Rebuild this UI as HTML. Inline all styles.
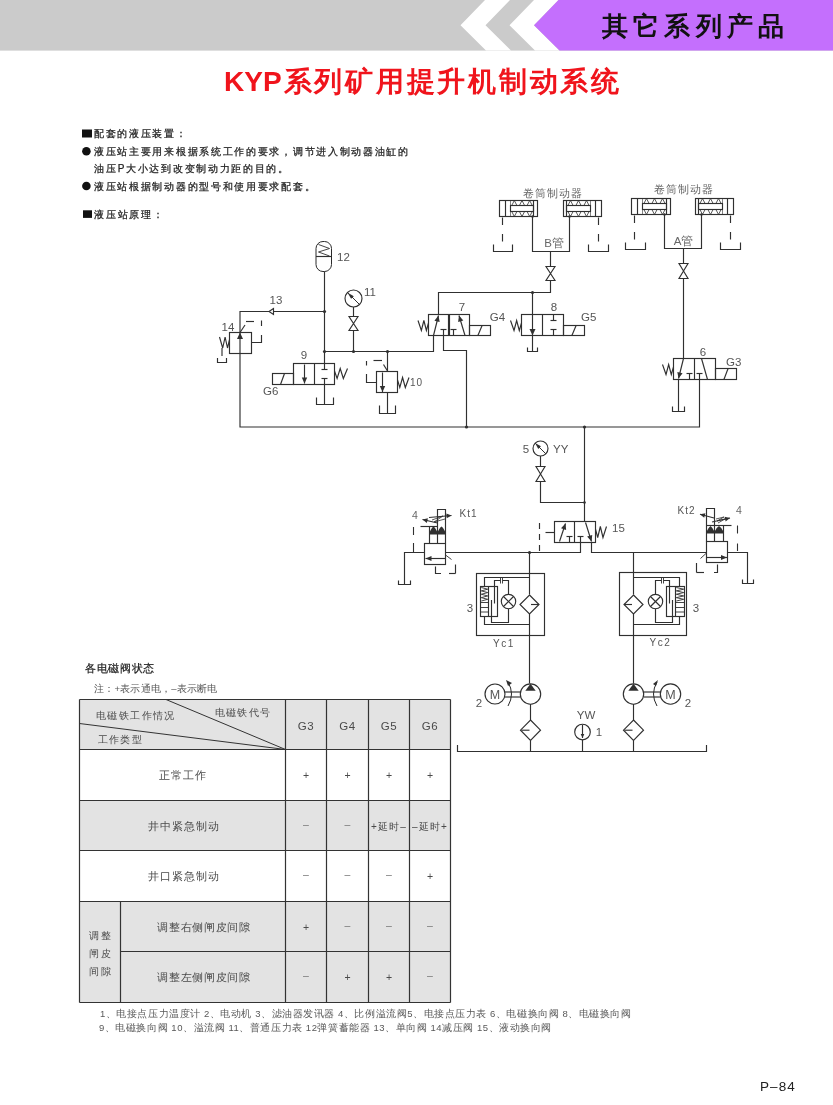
<!DOCTYPE html>
<html><head><meta charset="utf-8"><style>
html,body{margin:0;padding:0;background:#fff;}
body{width:833px;height:1105px;position:relative;overflow:hidden;font-family:"Liberation Sans",sans-serif;}
.t{position:absolute;white-space:nowrap;will-change:transform;}
</style></head><body>
<svg width="833" height="1105" viewBox="0 0 833 1105" style="position:absolute;left:0;top:0;will-change:transform" font-family="Liberation Sans, sans-serif"><rect x="0" y="0" width="833" height="50.6" fill="#cbcbcb"/><polygon points="485,0 510,0 485.5,25.3 511,50.6 486,50.6 460.5,25.3" fill="#fff"/><polygon points="534,0 558.5,0 534.0,25.3 559.5,50.6 535,50.6 509.5,25.3" fill="#fff"/><polygon points="558.5,0 833,0 833,50.6 559.5,50.6 534,25.3" fill="#c46ffd"/><rect x="499.5" y="200.5" width="38.0" height="16.0" fill="none" stroke="#303030" stroke-width="1.15"/><line x1="505.5" y1="200.5" x2="505.5" y2="216.5" stroke="#303030" stroke-width="1.15"/><line x1="533.5" y1="200.5" x2="533.5" y2="216.5" stroke="#303030" stroke-width="1.15"/><line x1="510.5" y1="200.5" x2="510.5" y2="216.5" stroke="#303030" stroke-width="0.6"/><rect x="510.5" y="205.5" width="23.0" height="6.0" fill="none" stroke="#303030" stroke-width="1.15"/><polyline points="511.73333333333335,205.5 514.3333333333334,200.5 516.9333333333334,205.5" fill="none" stroke="#303030" stroke-width="0.8"/><polyline points="511.73333333333335,211.5 514.3333333333334,216.5 516.9333333333334,211.5" fill="none" stroke="#303030" stroke-width="0.8"/><polyline points="519.4,205.5 522.0,200.5 524.6,205.5" fill="none" stroke="#303030" stroke-width="0.8"/><polyline points="519.4,211.5 522.0,216.5 524.6,211.5" fill="none" stroke="#303030" stroke-width="0.8"/><polyline points="527.0666666666666,205.5 529.6666666666666,200.5 532.2666666666667,205.5" fill="none" stroke="#303030" stroke-width="0.8"/><polyline points="527.0666666666666,211.5 529.6666666666666,216.5 532.2666666666667,211.5" fill="none" stroke="#303030" stroke-width="0.8"/><rect x="563.5" y="200.5" width="38.0" height="16.0" fill="none" stroke="#303030" stroke-width="1.15"/><line x1="595.5" y1="200.5" x2="595.5" y2="216.5" stroke="#303030" stroke-width="1.15"/><line x1="566.5" y1="200.5" x2="566.5" y2="216.5" stroke="#303030" stroke-width="1.15"/><line x1="590.5" y1="200.5" x2="590.5" y2="216.5" stroke="#303030" stroke-width="0.6"/><rect x="566.5" y="205.5" width="24.0" height="6.0" fill="none" stroke="#303030" stroke-width="1.15"/><polyline points="567.9,205.5 570.5,200.5 573.1,205.5" fill="none" stroke="#303030" stroke-width="0.8"/><polyline points="567.9,211.5 570.5,216.5 573.1,211.5" fill="none" stroke="#303030" stroke-width="0.8"/><polyline points="575.9,205.5 578.5,200.5 581.1,205.5" fill="none" stroke="#303030" stroke-width="0.8"/><polyline points="575.9,211.5 578.5,216.5 581.1,211.5" fill="none" stroke="#303030" stroke-width="0.8"/><polyline points="583.9,205.5 586.5,200.5 589.1,205.5" fill="none" stroke="#303030" stroke-width="0.8"/><polyline points="583.9,211.5 586.5,216.5 589.1,211.5" fill="none" stroke="#303030" stroke-width="0.8"/><polyline points="532.5,216.5 532.5,251.5 569.5,251.5 569.5,216.5" fill="none" stroke="#303030" stroke-width="1.15"/><circle cx="532.5" cy="216.5" r="1.2" fill="#303030"/><circle cx="569.5" cy="216.5" r="1.2" fill="#303030"/><line x1="502.5" y1="217.5" x2="502.5" y2="243.5" stroke="#303030" stroke-width="1.15" stroke-dasharray="7.5,9"/><line x1="598.5" y1="217.5" x2="598.5" y2="243.5" stroke="#303030" stroke-width="1.15" stroke-dasharray="7.5,9"/><polyline points="493.5,244.5 493.5,251.5 512.5,251.5 512.5,244.5" fill="none" stroke="#303030" stroke-width="1.15"/><polyline points="588.5,244.5 588.5,251.5 608.5,251.5 608.5,244.5" fill="none" stroke="#303030" stroke-width="1.15"/><text x="553" y="196.5" font-size="10.5" fill="#666" font-weight="normal" text-anchor="middle" letter-spacing="1.2">卷筒制动器</text><text x="554" y="247" font-size="11.5" fill="#666" font-weight="normal" text-anchor="middle" letter-spacing="0">B管</text><rect x="631.5" y="198.5" width="39.0" height="16.0" fill="none" stroke="#303030" stroke-width="1.15"/><line x1="637.5" y1="198.5" x2="637.5" y2="214.5" stroke="#303030" stroke-width="1.15"/><line x1="666.5" y1="198.5" x2="666.5" y2="214.5" stroke="#303030" stroke-width="1.15"/><line x1="642.5" y1="198.5" x2="642.5" y2="214.5" stroke="#303030" stroke-width="0.6"/><rect x="642.5" y="203.5" width="24.0" height="6.0" fill="none" stroke="#303030" stroke-width="1.15"/><polyline points="643.9,203.5 646.5,198.5 649.1,203.5" fill="none" stroke="#303030" stroke-width="0.8"/><polyline points="643.9,209.5 646.5,214.5 649.1,209.5" fill="none" stroke="#303030" stroke-width="0.8"/><polyline points="651.9,203.5 654.5,198.5 657.1,203.5" fill="none" stroke="#303030" stroke-width="0.8"/><polyline points="651.9,209.5 654.5,214.5 657.1,209.5" fill="none" stroke="#303030" stroke-width="0.8"/><polyline points="659.9,203.5 662.5,198.5 665.1,203.5" fill="none" stroke="#303030" stroke-width="0.8"/><polyline points="659.9,209.5 662.5,214.5 665.1,209.5" fill="none" stroke="#303030" stroke-width="0.8"/><rect x="695.5" y="198.5" width="38.0" height="16.0" fill="none" stroke="#303030" stroke-width="1.15"/><line x1="727.5" y1="198.5" x2="727.5" y2="214.5" stroke="#303030" stroke-width="1.15"/><line x1="698.5" y1="198.5" x2="698.5" y2="214.5" stroke="#303030" stroke-width="1.15"/><line x1="722.5" y1="198.5" x2="722.5" y2="214.5" stroke="#303030" stroke-width="0.6"/><rect x="698.5" y="203.5" width="24.0" height="6.0" fill="none" stroke="#303030" stroke-width="1.15"/><polyline points="699.9,203.5 702.5,198.5 705.1,203.5" fill="none" stroke="#303030" stroke-width="0.8"/><polyline points="699.9,209.5 702.5,214.5 705.1,209.5" fill="none" stroke="#303030" stroke-width="0.8"/><polyline points="707.9,203.5 710.5,198.5 713.1,203.5" fill="none" stroke="#303030" stroke-width="0.8"/><polyline points="707.9,209.5 710.5,214.5 713.1,209.5" fill="none" stroke="#303030" stroke-width="0.8"/><polyline points="715.9,203.5 718.5,198.5 721.1,203.5" fill="none" stroke="#303030" stroke-width="0.8"/><polyline points="715.9,209.5 718.5,214.5 721.1,209.5" fill="none" stroke="#303030" stroke-width="0.8"/><polyline points="664.5,214.5 664.5,248.5 701.5,248.5 701.5,214.5" fill="none" stroke="#303030" stroke-width="1.15"/><circle cx="664.5" cy="214.5" r="1.2" fill="#303030"/><circle cx="701.5" cy="214.5" r="1.2" fill="#303030"/><line x1="634.5" y1="215.5" x2="634.5" y2="241.5" stroke="#303030" stroke-width="1.15" stroke-dasharray="7.5,9"/><line x1="730.5" y1="215.5" x2="730.5" y2="241.5" stroke="#303030" stroke-width="1.15" stroke-dasharray="7.5,9"/><polyline points="625.5,242.5 625.5,249.5 645.5,249.5 645.5,242.5" fill="none" stroke="#303030" stroke-width="1.15"/><polyline points="720.5,242.5 720.5,249.5 740.5,249.5 740.5,242.5" fill="none" stroke="#303030" stroke-width="1.15"/><text x="684" y="193" font-size="10.5" fill="#666" font-weight="normal" text-anchor="middle" letter-spacing="1.2">卷筒制动器</text><text x="683.5" y="245" font-size="11.5" fill="#666" font-weight="normal" text-anchor="middle" letter-spacing="0">A管</text><line x1="550.5" y1="251.5" x2="550.5" y2="266" stroke="#303030" stroke-width="1.15"/><polygon points="546.0,266.5 555.0,266.5 550.5,273.5 546.0,280.5 555.0,280.5 550.5,273.5" fill="none" stroke="#303030" stroke-width="1.15"/><polyline points="550.5,280.5 550.5,292.5 438.5,292.5 438.5,314.5" fill="none" stroke="#303030" stroke-width="1.15"/><circle cx="532.5" cy="292.5" r="1.6" fill="#303030"/><line x1="532.5" y1="292.5" x2="532.5" y2="351.5" stroke="#303030" stroke-width="1.15"/><polygon points="529.5,329 535.5,329 532.5,335.5" fill="#303030"/><polyline points="527.5,347.5 527.5,351.5 537.5,351.5 537.5,347.5" fill="none" stroke="#303030" stroke-width="1.15"/><rect x="428.5" y="314.5" width="41.0" height="21.0" fill="none" stroke="#303030" stroke-width="1.15"/><line x1="449.5" y1="314.5" x2="449.5" y2="335.5" stroke="#303030" stroke-width="1.15"/><rect x="469.5" y="325.5" width="21.0" height="10.0" fill="none" stroke="#303030" stroke-width="1.15"/><line x1="477.9" y1="335.5" x2="482.1" y2="325.5" stroke="#303030" stroke-width="1.15"/><line x1="448.5" y1="314.5" x2="448.5" y2="335.5" stroke="#303030" stroke-width="1.15"/><line x1="433.5" y1="335.5" x2="438.5" y2="315.5" stroke="#303030" stroke-width="1.15"/><polygon points="438.5,315.5 439.6641710001744,321.97570118847005 434.42540149938964,320.6660088132739" fill="#303030"/><line x1="443.5" y1="335.5" x2="443.5" y2="329.5" stroke="#303030" stroke-width="1.15"/><line x1="440.5" y1="329.5" x2="446.5" y2="329.5" stroke="#303030" stroke-width="1.15"/><line x1="453.5" y1="335.5" x2="453.5" y2="329.5" stroke="#303030" stroke-width="1.15"/><line x1="450.5" y1="329.5" x2="456.5" y2="329.5" stroke="#303030" stroke-width="1.15"/><line x1="465" y1="335.5" x2="459" y2="315.5" stroke="#303030" stroke-width="1.15"/><polygon points="459,315.5 463.31021828349515,320.4711184202978 458.13795634330097,322.022797002356" fill="#303030"/><polyline points="418,320.5 421.36,330.5 423.88,320.5 426.4,330.5 428.5,323.0" fill="none" stroke="#303030" stroke-width="1.15"/><text x="462" y="311" font-size="11.5" fill="#555" font-weight="normal" text-anchor="middle" letter-spacing="0">7</text><text x="489.8" y="321" font-size="11.5" fill="#555" font-weight="normal" text-anchor="start" letter-spacing="0">G4</text><polyline points="433.5,335.5 433.5,351.5 324.5,351.5" fill="none" stroke="#303030" stroke-width="1.15"/><polyline points="443.5,335.5 443.5,350.5 466.5,350.5 466.5,427" fill="none" stroke="#303030" stroke-width="1.15"/><rect x="521.5" y="314.5" width="42.0" height="21.0" fill="none" stroke="#303030" stroke-width="1.15"/><line x1="542.5" y1="314.5" x2="542.5" y2="335.5" stroke="#303030" stroke-width="1.15"/><rect x="563.5" y="325.5" width="21.0" height="10.0" fill="none" stroke="#303030" stroke-width="1.15"/><line x1="571.9" y1="335.5" x2="576.1" y2="325.5" stroke="#303030" stroke-width="1.15"/><line x1="553.5" y1="314.5" x2="553.5" y2="320.5" stroke="#303030" stroke-width="1.15"/><line x1="550.5" y1="320.5" x2="556.5" y2="320.5" stroke="#303030" stroke-width="1.15"/><line x1="553.5" y1="335.5" x2="553.5" y2="329.5" stroke="#303030" stroke-width="1.15"/><line x1="550.5" y1="329.5" x2="556.5" y2="329.5" stroke="#303030" stroke-width="1.15"/><polyline points="510.5,320.5 514.02,330.5 516.66,320.5 519.3,330.5 521.5,323.0" fill="none" stroke="#303030" stroke-width="1.15"/><text x="554" y="311" font-size="11.5" fill="#555" font-weight="normal" text-anchor="middle" letter-spacing="0">8</text><text x="581" y="321" font-size="11.5" fill="#555" font-weight="normal" text-anchor="start" letter-spacing="0">G5</text><line x1="683.5" y1="248.5" x2="683.5" y2="264" stroke="#303030" stroke-width="1.15"/><polygon points="679.0,263.5 688.0,263.5 683.5,271.0 679.0,278.5 688.0,278.5 683.5,271.0" fill="none" stroke="#303030" stroke-width="1.15"/><line x1="683.5" y1="278.5" x2="683.5" y2="358.5" stroke="#303030" stroke-width="1.15"/><rect x="673.5" y="358.5" width="42.0" height="21.0" fill="none" stroke="#303030" stroke-width="1.15"/><line x1="694.5" y1="358.5" x2="694.5" y2="379.5" stroke="#303030" stroke-width="1.15"/><rect x="715.5" y="368.5" width="21.0" height="11.0" fill="none" stroke="#303030" stroke-width="1.15"/><line x1="723.9" y1="379.5" x2="728.1" y2="368.5" stroke="#303030" stroke-width="1.15"/><line x1="683.5" y1="358.5" x2="678.5" y2="378.5" stroke="#303030" stroke-width="1.15"/><polygon points="678.5,378.5 677.3358289998256,372.02429881152995 682.5745985006105,373.3339911867261" fill="#303030"/><line x1="689.5" y1="379.5" x2="689.5" y2="373.5" stroke="#303030" stroke-width="1.15"/><line x1="686.5" y1="373.5" x2="692.5" y2="373.5" stroke="#303030" stroke-width="1.15"/><line x1="699.5" y1="379.5" x2="699.5" y2="373.5" stroke="#303030" stroke-width="1.15"/><line x1="696.5" y1="373.5" x2="702.5" y2="373.5" stroke="#303030" stroke-width="1.15"/><line x1="701.5" y1="358.5" x2="707.5" y2="379.5" stroke="#303030" stroke-width="1.15"/><polyline points="662.5,364.5 666.02,374.5 668.66,364.5 671.3,374.5 673.5,367.0" fill="none" stroke="#303030" stroke-width="1.15"/><text x="703" y="356" font-size="11.5" fill="#555" font-weight="normal" text-anchor="middle" letter-spacing="0">6</text><text x="726" y="366" font-size="11.5" fill="#555" font-weight="normal" text-anchor="start" letter-spacing="0">G3</text><line x1="678.5" y1="379.5" x2="678.5" y2="411.5" stroke="#303030" stroke-width="1.15"/><polyline points="672.5,406.5 672.5,411.5 684.5,411.5 684.5,406.5" fill="none" stroke="#303030" stroke-width="1.15"/><polyline points="699.5,379.5 699.5,427 240,427 240,311.5 324.5,311.5" fill="none" stroke="#303030" stroke-width="1.15"/><circle cx="466.5" cy="427" r="1.6" fill="#303030"/><circle cx="584.5" cy="427" r="1.6" fill="#303030"/><rect x="316" y="241.5" width="15.5" height="30" rx="7" ry="7" fill="none" stroke="#2a2a2a" stroke-width="1"/><line x1="316" y1="256.5" x2="331.5" y2="256.5" stroke="#303030" stroke-width="1.15"/><polyline points="318.5,244.5 329.5,248.5 318.5,252 329.5,256" fill="none" stroke="#303030" stroke-width="0.9"/><text x="337" y="261" font-size="11.5" fill="#555" font-weight="normal" text-anchor="start" letter-spacing="0">12</text><line x1="324.5" y1="271.5" x2="324.5" y2="363.5" stroke="#303030" stroke-width="1.15"/><circle cx="324.5" cy="311.5" r="1.6" fill="#303030"/><circle cx="324.5" cy="351.5" r="1.6" fill="#303030"/><polygon points="273.5,308.5 269,311.5 273.5,314.5" fill="#fff" stroke="#303030" stroke-width="1.15"/><text x="276" y="303.7" font-size="11.5" fill="#555" font-weight="normal" text-anchor="middle" letter-spacing="0">13</text><circle cx="353.5" cy="298.5" r="8.5" fill="none" stroke="#303030" stroke-width="1.15"/><line x1="347.38" y1="292.38" x2="359.62" y2="304.62" stroke="#303030" stroke-width="1"/><polygon points="347.38,292.38 351.1453436098183,298.83234937832725 353.83234937832725,296.1453436098183" fill="#303030"/><text x="364" y="296" font-size="11.5" fill="#555" font-weight="normal" text-anchor="start" letter-spacing="0">11</text><line x1="353.5" y1="307" x2="353.5" y2="316" stroke="#303030" stroke-width="1.15"/><polygon points="349.0,316.5 358.0,316.5 353.5,323.5 349.0,330.5 358.0,330.5 353.5,323.5" fill="none" stroke="#303030" stroke-width="1.15"/><line x1="353.5" y1="330.5" x2="353.5" y2="351.5" stroke="#303030" stroke-width="1.15"/><line x1="324.5" y1="351.5" x2="433.5" y2="351.5" stroke="#303030" stroke-width="1.15"/><circle cx="353.5" cy="351.5" r="1.6" fill="#303030"/><circle cx="387.5" cy="351.5" r="1.6" fill="#303030"/><rect x="229.5" y="332.5" width="22" height="21" fill="none" stroke="#303030" stroke-width="1.15"/><polygon points="240,332.5 237,339 243,339" fill="#303030"/><polyline points="219.5,337.0 222.7,348.0 225.1,337.0 227.5,348.0 229.5,339.75" fill="none" stroke="#303030" stroke-width="1.15"/><line x1="240" y1="332.5" x2="245" y2="325" stroke="#303030" stroke-width="1.15"/><line x1="246" y1="321.5" x2="254" y2="321.5" stroke="#303030" stroke-width="1.15"/><line x1="261.5" y1="320.5" x2="261.5" y2="326" stroke="#303030" stroke-width="1.15"/><polyline points="261.5,335 261.5,342.5 251.5,342.5" fill="none" stroke="#303030" stroke-width="1.15"/><line x1="222" y1="348" x2="222" y2="356" stroke="#303030" stroke-width="1.15"/><polyline points="217.5,358 217.5,362.5 226.5,362.5 226.5,358" fill="none" stroke="#303030" stroke-width="1.15"/><text x="228" y="331" font-size="11.5" fill="#555" font-weight="normal" text-anchor="middle" letter-spacing="0">14</text><rect x="293.5" y="363.5" width="41" height="21" fill="none" stroke="#303030" stroke-width="1.15"/><line x1="314.5" y1="363.5" x2="314.5" y2="384.5" stroke="#303030" stroke-width="1.15"/><rect x="272.5" y="373.5" width="21" height="11" fill="none" stroke="#303030" stroke-width="1.15"/><line x1="280.5" y1="384.5" x2="284.5" y2="373.5" stroke="#303030" stroke-width="1.15"/><line x1="304.5" y1="364.5" x2="304.5" y2="383.5" stroke="#303030" stroke-width="1.15"/><polygon points="304.5,383.5 301.8,377.5 307.2,377.5" fill="#303030"/><line x1="324.5" y1="363.5" x2="324.5" y2="369.5" stroke="#303030" stroke-width="1.15"/><line x1="321.5" y1="369.5" x2="327.5" y2="369.5" stroke="#303030" stroke-width="1.15"/><line x1="324.5" y1="384.5" x2="324.5" y2="378.5" stroke="#303030" stroke-width="1.15"/><line x1="321.5" y1="378.5" x2="327.5" y2="378.5" stroke="#303030" stroke-width="1.15"/><polyline points="347.5,368.5 343.34,378.5 340.22,368.5 337.1,378.5 334.5,371.0" fill="none" stroke="#303030" stroke-width="1.15"/><text x="304" y="359" font-size="11.5" fill="#555" font-weight="normal" text-anchor="middle" letter-spacing="0">9</text><text x="263" y="395" font-size="11.5" fill="#555" font-weight="normal" text-anchor="start" letter-spacing="0">G6</text><line x1="324.5" y1="384.5" x2="324.5" y2="404.5" stroke="#303030" stroke-width="1.15"/><polyline points="316.5,397.5 316.5,404.5 333.5,404.5 333.5,397.5" fill="none" stroke="#303030" stroke-width="1.15"/><rect x="376.5" y="371.5" width="21" height="21" fill="none" stroke="#303030" stroke-width="1.15"/><line x1="387.5" y1="351.5" x2="387.5" y2="371.5" stroke="#303030" stroke-width="1.15"/><line x1="383.5" y1="364.5" x2="387.5" y2="371" stroke="#303030" stroke-width="1.15"/><line x1="382.5" y1="372.5" x2="382.5" y2="392" stroke="#303030" stroke-width="1.15"/><polygon points="382.5,392 379.8,386.0 385.2,386.0" fill="#303030"/><line x1="366.5" y1="361" x2="366.5" y2="365.5" stroke="#303030" stroke-width="1.15"/><line x1="373.5" y1="360.5" x2="382" y2="360.5" stroke="#303030" stroke-width="1.15"/><polyline points="366.5,374 366.5,382.5 376.5,382.5" fill="none" stroke="#303030" stroke-width="1.15"/><polyline points="409,377.5 405.32,387.5 402.56,377.5 399.8,387.5 397.5,380.0" fill="none" stroke="#303030" stroke-width="1.15"/><text x="410" y="386" font-size="10" fill="#555" font-weight="normal" text-anchor="start" letter-spacing="1">10</text><line x1="387.5" y1="392.5" x2="387.5" y2="413.5" stroke="#303030" stroke-width="1.15"/><polyline points="379.5,405.5 379.5,413.5 395.5,413.5 395.5,405.5" fill="none" stroke="#303030" stroke-width="1.15"/><line x1="584.5" y1="427" x2="584.5" y2="521.5" stroke="#303030" stroke-width="1.15"/><circle cx="540.5" cy="448.5" r="7.5" fill="none" stroke="#303030" stroke-width="1.15"/><line x1="535.1" y1="443.1" x2="545.9" y2="453.9" stroke="#303030" stroke-width="1"/><polygon points="535.1,443.1 538.2643028458098,448.95130861431875 540.9513086143187,446.2643028458098" fill="#303030"/><text x="526" y="453" font-size="11.5" fill="#555" font-weight="normal" text-anchor="middle" letter-spacing="0">5</text><text x="553" y="453" font-size="11.5" fill="#555" font-weight="normal" text-anchor="start" letter-spacing="0">YY</text><line x1="540.5" y1="456" x2="540.5" y2="467" stroke="#303030" stroke-width="1.15"/><polygon points="536.0,466.5 545.0,466.5 540.5,474.0 536.0,481.5 545.0,481.5 540.5,474.0" fill="none" stroke="#303030" stroke-width="1.15"/><polyline points="540.5,481.5 540.5,502.5 584.5,502.5" fill="none" stroke="#303030" stroke-width="1.15"/><circle cx="584.5" cy="502.5" r="1.3" fill="#303030"/><rect x="554.5" y="521.5" width="41" height="21" fill="none" stroke="#303030" stroke-width="1.15"/><line x1="574.5" y1="521.5" x2="574.5" y2="542.5" stroke="#303030" stroke-width="1.15"/><line x1="559.5" y1="541.5" x2="565.5" y2="523.5" stroke="#303030" stroke-width="1.15"/><polygon points="565.5,523.5 566.1640783086353,530.0459147565485 561.0411884991626,528.3382848200575" fill="#303030"/><line x1="569.5" y1="542.5" x2="569.5" y2="536.5" stroke="#303030" stroke-width="1.15"/><line x1="566.5" y1="536.5" x2="572.5" y2="536.5" stroke="#303030" stroke-width="1.15"/><line x1="580.5" y1="542.5" x2="580.5" y2="536.5" stroke="#303030" stroke-width="1.15"/><line x1="577.5" y1="536.5" x2="583.5" y2="536.5" stroke="#303030" stroke-width="1.15"/><line x1="585.5" y1="522.5" x2="591.5" y2="541.5" stroke="#303030" stroke-width="1.15"/><polygon points="591.5,541.5 587.1185385965152,536.5915587026253 592.2678849882395,534.9654493157649" fill="#303030"/><polyline points="606.5,526.5 602.98,537.5 600.34,526.5 597.7,537.5 595.5,529.25" fill="none" stroke="#303030" stroke-width="1.15"/><text x="612" y="532" font-size="11.5" fill="#555" font-weight="normal" text-anchor="start" letter-spacing="0">15</text><line x1="545.5" y1="532.5" x2="554.5" y2="532.5" stroke="#303030" stroke-width="1.15"/><line x1="539.5" y1="523" x2="539.5" y2="552" stroke="#303030" stroke-width="1.15" stroke-dasharray="6,5"/><polyline points="580.5,542.5 580.5,552.5 445.5,552.5" fill="none" stroke="#303030" stroke-width="1.15"/><polyline points="591.5,542.5 591.5,552.5 706.5,552.5" fill="none" stroke="#303030" stroke-width="1.15"/><circle cx="529.5" cy="552.5" r="1.6" fill="#303030"/><rect x="476.5" y="573.5" width="68.0" height="62.0" fill="none" stroke="#303030" stroke-width="1.15"/><polygon points="529.5,595.0 539.0,604.5 529.5,614.0 520.0,604.5" fill="none" stroke="#303030" stroke-width="1.15"/><line x1="531.0" y1="604.5" x2="539.0" y2="604.5" stroke="#303030" stroke-width="1.15"/><polyline points="529.5,577.5 484.5,577.5 484.5,586.5" fill="none" stroke="#303030" stroke-width="1.15"/><polyline points="484.5,616.5 484.5,624.5 529.5,624.5" fill="none" stroke="#303030" stroke-width="1.15"/><rect x="480.5" y="586.5" width="17.0" height="30" fill="none" stroke="#303030" stroke-width="1.15"/><line x1="488.5" y1="586.5" x2="488.5" y2="616.5" stroke="#303030" stroke-width="1.15"/><polyline points="481.3,587.5 487.7,589.1875 481.3,590.875 487.7,592.5625 481.3,594.25 487.7,595.9375 481.3,597.625 487.7,599.3125 481.3,601.0" fill="none" stroke="#303030" stroke-width="0.9"/><line x1="480.5" y1="602.5" x2="488.5" y2="602.5" stroke="#303030" stroke-width="0.9"/><line x1="480.5" y1="607.5" x2="488.5" y2="607.5" stroke="#303030" stroke-width="0.9"/><line x1="480.5" y1="612" x2="488.5" y2="612" stroke="#303030" stroke-width="0.9"/><polyline points="508.5,594.5 508.5,580.5 502.7,580.5" fill="none" stroke="#303030" stroke-width="1.15"/><line x1="500.5" y1="577.5" x2="500.5" y2="583.5" stroke="#303030" stroke-width="0.9"/><line x1="502.5" y1="577.5" x2="502.5" y2="583.5" stroke="#303030" stroke-width="0.9"/><polyline points="500.3,580.5 494.5,580.5 494.5,603.5" fill="none" stroke="#303030" stroke-width="1.15"/><circle cx="508.5" cy="601.5" r="7.2" fill="none" stroke="#303030" stroke-width="1.15"/><line x1="503.5" y1="596.5" x2="513.5" y2="606.5" stroke="#303030" stroke-width="1.15"/><line x1="513.5" y1="596.5" x2="503.5" y2="606.5" stroke="#303030" stroke-width="1.15"/><polyline points="491.5,600 491.5,622.5 508.5,622.5 508.5,608.7" fill="none" stroke="#303030" stroke-width="1.15"/><text x="470" y="612" font-size="11.5" fill="#555" font-weight="normal" text-anchor="middle" letter-spacing="0">3</text><text x="504" y="646.7" font-size="10" fill="#555" font-weight="normal" text-anchor="middle" letter-spacing="1.6">Yc1</text><rect x="619.5" y="572.5" width="67.0" height="63.0" fill="none" stroke="#303030" stroke-width="1.15"/><polygon points="633.5,595.0 643.0,604.5 633.5,614.0 624.0,604.5" fill="none" stroke="#303030" stroke-width="1.15"/><line x1="624.0" y1="604.5" x2="632.0" y2="604.5" stroke="#303030" stroke-width="1.15"/><polyline points="633.5,577.5 679.5,577.5 679.5,586.5" fill="none" stroke="#303030" stroke-width="1.15"/><polyline points="679.5,616.5 679.5,624.5 633.5,624.5" fill="none" stroke="#303030" stroke-width="1.15"/><rect x="666.5" y="586.5" width="18.0" height="30" fill="none" stroke="#303030" stroke-width="1.15"/><line x1="675.5" y1="586.5" x2="675.5" y2="616.5" stroke="#303030" stroke-width="1.15"/><polyline points="676.3,587.5 683.7,589.1875 676.3,590.875 683.7,592.5625 676.3,594.25 683.7,595.9375 676.3,597.625 683.7,599.3125 676.3,601.0" fill="none" stroke="#303030" stroke-width="0.9"/><line x1="675.5" y1="602.5" x2="684.5" y2="602.5" stroke="#303030" stroke-width="0.9"/><line x1="675.5" y1="607.5" x2="684.5" y2="607.5" stroke="#303030" stroke-width="0.9"/><line x1="675.5" y1="612" x2="684.5" y2="612" stroke="#303030" stroke-width="0.9"/><polyline points="655.5,594.5 655.5,580.5 661.3,580.5" fill="none" stroke="#303030" stroke-width="1.15"/><line x1="661.5" y1="577.5" x2="661.5" y2="583.5" stroke="#303030" stroke-width="0.9"/><line x1="663.5" y1="577.5" x2="663.5" y2="583.5" stroke="#303030" stroke-width="0.9"/><polyline points="663.7,580.5 669.5,580.5 669.5,603.5" fill="none" stroke="#303030" stroke-width="1.15"/><circle cx="655.5" cy="601.5" r="7.2" fill="none" stroke="#303030" stroke-width="1.15"/><line x1="650.5" y1="596.5" x2="660.5" y2="606.5" stroke="#303030" stroke-width="1.15"/><line x1="660.5" y1="596.5" x2="650.5" y2="606.5" stroke="#303030" stroke-width="1.15"/><polyline points="672.5,600 672.5,622.5 655.5,622.5 655.5,608.7" fill="none" stroke="#303030" stroke-width="1.15"/><text x="696" y="612" font-size="11.5" fill="#555" font-weight="normal" text-anchor="middle" letter-spacing="0">3</text><text x="660.5" y="645.5" font-size="10" fill="#555" font-weight="normal" text-anchor="middle" letter-spacing="1.6">Yc2</text><line x1="529.5" y1="552.5" x2="529.5" y2="594.5" stroke="#303030" stroke-width="1.15"/><line x1="529.5" y1="614" x2="529.5" y2="683.5" stroke="#303030" stroke-width="1.15"/><line x1="633.5" y1="552.5" x2="633.5" y2="594.5" stroke="#303030" stroke-width="1.15"/><line x1="633.5" y1="614" x2="633.5" y2="683.5" stroke="#303030" stroke-width="1.15"/><rect x="424.5" y="543.5" width="21" height="21" fill="none" stroke="#303030" stroke-width="1.15"/><line x1="445" y1="558.5" x2="425.5" y2="558.5" stroke="#303030" stroke-width="1.15"/><polygon points="425.5,558.5 431.5,555.9 431.5,561.1" fill="#303030"/><polyline points="437.5,543.5 437.5,509.5 445.5,509.5 445.5,543.5" fill="none" stroke="#303030" stroke-width="1.15"/><line x1="429.5" y1="526" x2="429.5" y2="543.5" stroke="#303030" stroke-width="1.15"/><path d="M429.5,534.5 L429.5,532.5 Q431.7,527.7 433.5,526.5 Q435.3,527.7 437.5,532.5 Q439.7,527.7 441.5,526.5 Q443.3,527.7 445.5,532.5 L445.5,534.5 Z" fill="#303030"/><line x1="420.5" y1="526.5" x2="437.5" y2="526.5" stroke="#303030" stroke-width="1.15"/><line x1="437.5" y1="523" x2="422.5" y2="519.5" stroke="#303030" stroke-width="1.15"/><polygon points="422.5,519.5 427.91455712616437,518.2989291746518 426.8238549712536,522.9733669814124" fill="#303030"/><line x1="429" y1="517.5" x2="451.5" y2="515.5" stroke="#303030" stroke-width="1.15"/><polygon points="451.5,515.5 446.7321322932177,518.3332732890814 446.30714129985546,513.5521246137565" fill="#303030"/><polyline points="432,520 443,516 434,522 445,519" fill="none" stroke="#303030" stroke-width="0.8"/><line x1="413.5" y1="527" x2="413.5" y2="535" stroke="#303030" stroke-width="1.1"/><line x1="413.5" y1="543" x2="413.5" y2="552.5" stroke="#303030" stroke-width="1.1"/><polyline points="424.5,552.5 404.5,552.5 404.5,584.5" fill="none" stroke="#303030" stroke-width="1.15"/><polyline points="398.5,580.5 398.5,584.5 410.5,584.5 410.5,580.5" fill="none" stroke="#303030" stroke-width="1.15"/><line x1="445.5" y1="555" x2="451.5" y2="559.5" stroke="#303030" stroke-width="0.9"/><line x1="455.5" y1="564.5" x2="455.5" y2="573.5" stroke="#303030" stroke-width="1.15"/><polyline points="455.5,573.5 449,573.5" fill="none" stroke="#303030" stroke-width="1.15"/><polyline points="441,573.5 435.5,573.5 435.5,566.5" fill="none" stroke="#303030" stroke-width="1.15"/><text x="415" y="518.7" font-size="10.5" fill="#666" font-weight="normal" text-anchor="middle" letter-spacing="0">4</text><text x="459.5" y="516.8" font-size="10" fill="#555" font-weight="normal" text-anchor="start" letter-spacing="1">Kt1</text><rect x="706.5" y="541.5" width="21" height="21" fill="none" stroke="#303030" stroke-width="1.15"/><line x1="707" y1="557.5" x2="727" y2="557.5" stroke="#303030" stroke-width="1.15"/><polygon points="727,557.5 721.0,560.1 721.0,554.9" fill="#303030"/><polyline points="706.5,541.5 706.5,508.5 714.5,508.5 714.5,541.5" fill="none" stroke="#303030" stroke-width="1.15"/><line x1="723.5" y1="526" x2="723.5" y2="541.5" stroke="#303030" stroke-width="1.15"/><path d="M706.5,533.5 L706.5,531.625 Q708.7,527.125 710.5,526 Q712.3,527.125 714.5,531.625 Q716.7,527.125 719.0,526 Q721.3,527.125 723.5,531.625 L723.5,533.5 Z" fill="#303030"/><line x1="706.5" y1="525.5" x2="731.5" y2="525.5" stroke="#303030" stroke-width="1.15"/><line x1="714" y1="518" x2="700" y2="514.2" stroke="#303030" stroke-width="1.15"/><polygon points="700,514.2 705.4540878889717,513.1935580993555 704.1967248569337,517.8259482173902" fill="#303030"/><line x1="712" y1="522" x2="730" y2="518" stroke="#303030" stroke-width="1.15"/><polygon points="730,518 725.639697797845,521.4275012335347 724.5984316003155,516.7418033446518" fill="#303030"/><polyline points="716,519 724,517 717,521 725,519 718,523" fill="none" stroke="#303030" stroke-width="0.8"/><line x1="737.5" y1="525.5" x2="737.5" y2="533.5" stroke="#303030" stroke-width="1.1"/><line x1="737.5" y1="543.5" x2="737.5" y2="551" stroke="#303030" stroke-width="1.1"/><polyline points="727.5,552.5 747.5,552.5 747.5,583.5" fill="none" stroke="#303030" stroke-width="1.15"/><polyline points="742.5,579.5 742.5,583.5 753.5,583.5 753.5,579.5" fill="none" stroke="#303030" stroke-width="1.15"/><line x1="706.5" y1="553" x2="700.5" y2="558.5" stroke="#303030" stroke-width="0.9"/><line x1="696.5" y1="563" x2="696.5" y2="572.5" stroke="#303030" stroke-width="1.15"/><polyline points="696.5,572.5 704,572.5" fill="none" stroke="#303030" stroke-width="1.15"/><polyline points="714,572.5 717.5,572.5 717.5,564.5" fill="none" stroke="#303030" stroke-width="1.15"/><text x="738.8" y="514.4" font-size="10.5" fill="#666" font-weight="normal" text-anchor="middle" letter-spacing="0">4</text><text x="695.5" y="513.5" font-size="10" fill="#555" font-weight="normal" text-anchor="end" letter-spacing="1">Kt2</text><circle cx="530.5" cy="694" r="10.2" fill="none" stroke="#303030" stroke-width="1.15"/><polygon points="530.5,683.8 525.3,690.8 535.7,690.8" fill="#303030"/><circle cx="495" cy="694" r="10" fill="none" stroke="#303030" stroke-width="1.15"/><text x="495" y="698.5" font-size="12.5" fill="#555" font-weight="normal" text-anchor="middle" letter-spacing="0">M</text><line x1="505" y1="692" x2="520.5" y2="692" stroke="#303030" stroke-width="1.15"/><line x1="505" y1="697" x2="520.5" y2="697" stroke="#303030" stroke-width="1.15"/><path d="M508,682 Q515,694 508,706" fill="none" stroke="#2a2a2a" stroke-width="1"/><polygon points="506,680 512,683 508,686" fill="#303030"/><text x="479" y="707" font-size="11.5" fill="#555" font-weight="normal" text-anchor="middle" letter-spacing="0">2</text><line x1="530.5" y1="704" x2="530.5" y2="720.5" stroke="#303030" stroke-width="1.15"/><polygon points="530.5,720 540.5,730.2 530.5,740.5 520.5,730.2" fill="none" stroke="#303030" stroke-width="1.15"/><line x1="521.5" y1="730.2" x2="529.5" y2="730.2" stroke="#303030" stroke-width="1.15"/><line x1="530.5" y1="740.5" x2="530.5" y2="751.5" stroke="#303030" stroke-width="1.15"/><circle cx="633.5" cy="694" r="10.2" fill="none" stroke="#303030" stroke-width="1.15"/><polygon points="633.5,683.8 628.3,690.8 638.7,690.8" fill="#303030"/><circle cx="670.5" cy="694" r="10.2" fill="none" stroke="#303030" stroke-width="1.15"/><text x="670.5" y="698.5" font-size="12.5" fill="#555" font-weight="normal" text-anchor="middle" letter-spacing="0">M</text><line x1="644" y1="692" x2="660.5" y2="692" stroke="#303030" stroke-width="1.15"/><line x1="644" y1="697" x2="660.5" y2="697" stroke="#303030" stroke-width="1.15"/><path d="M657,682 Q650,694 657,706" fill="none" stroke="#2a2a2a" stroke-width="1"/><polygon points="658,680 653,684 656,686" fill="#303030"/><text x="688" y="707" font-size="11.5" fill="#555" font-weight="normal" text-anchor="middle" letter-spacing="0">2</text><line x1="633.5" y1="704" x2="633.5" y2="720.5" stroke="#303030" stroke-width="1.15"/><polygon points="633.5,720 643.5,730.2 633.5,740.5 623.5,730.2" fill="none" stroke="#303030" stroke-width="1.15"/><line x1="624.5" y1="730.2" x2="632.5" y2="730.2" stroke="#303030" stroke-width="1.15"/><line x1="633.5" y1="740.5" x2="633.5" y2="751.5" stroke="#303030" stroke-width="1.15"/><polyline points="457.5,745 457.5,751.5 706.5,751.5 706.5,745" fill="none" stroke="#303030" stroke-width="1.15"/><circle cx="582.5" cy="732" r="7.8" fill="none" stroke="#303030" stroke-width="1.15"/><line x1="582.5" y1="725" x2="582.5" y2="738" stroke="#303030" stroke-width="1.15"/><polygon points="582.5,738 580.7,734.0 584.3,734.0" fill="#303030"/><line x1="582.5" y1="739.8" x2="582.5" y2="751.5" stroke="#303030" stroke-width="1.15"/><text x="586" y="719" font-size="11.5" fill="#555" font-weight="normal" text-anchor="middle" letter-spacing="0">YW</text><text x="599" y="736" font-size="11.5" fill="#555" font-weight="normal" text-anchor="middle" letter-spacing="0">1</text><rect x="79.5" y="699.5" width="371.0" height="50.0" fill="#e3e3e3"/><rect x="79.5" y="800.5" width="371.0" height="50.0" fill="#e3e3e3"/><rect x="79.5" y="901.5" width="371.0" height="101.0" fill="#e3e3e3"/><line x1="79.5" y1="699.5" x2="450.5" y2="699.5" stroke="#333" stroke-width="1.2"/><line x1="79.5" y1="749.5" x2="450.5" y2="749.5" stroke="#333" stroke-width="1.2"/><line x1="79.5" y1="800.5" x2="450.5" y2="800.5" stroke="#333" stroke-width="1.2"/><line x1="79.5" y1="850.5" x2="450.5" y2="850.5" stroke="#333" stroke-width="1.2"/><line x1="79.5" y1="901.5" x2="450.5" y2="901.5" stroke="#333" stroke-width="1.2"/><line x1="120.5" y1="951.5" x2="450.5" y2="951.5" stroke="#333" stroke-width="1.2"/><line x1="79.5" y1="1002.5" x2="450.5" y2="1002.5" stroke="#333" stroke-width="1.2"/><line x1="79.5" y1="699.5" x2="79.5" y2="1002.5" stroke="#333" stroke-width="1.2"/><line x1="285.5" y1="699.5" x2="285.5" y2="1002.5" stroke="#333" stroke-width="1.2"/><line x1="326.5" y1="699.5" x2="326.5" y2="1002.5" stroke="#333" stroke-width="1.2"/><line x1="368.5" y1="699.5" x2="368.5" y2="1002.5" stroke="#333" stroke-width="1.2"/><line x1="409.5" y1="699.5" x2="409.5" y2="1002.5" stroke="#333" stroke-width="1.2"/><line x1="450.5" y1="699.5" x2="450.5" y2="1002.5" stroke="#333" stroke-width="1.2"/><line x1="120.5" y1="901.5" x2="120.5" y2="1002.5" stroke="#333" stroke-width="1.2"/><line x1="166" y1="699.5" x2="285.5" y2="749.5" stroke="#333" stroke-width="1"/><line x1="79.5" y1="723.5" x2="285.5" y2="749.5" stroke="#333" stroke-width="1"/><text x="96" y="719" font-size="10" fill="#4a4a4a" font-weight="normal" text-anchor="start" letter-spacing="1.4">电磁铁工作情况</text><text x="214.5" y="716" font-size="10" fill="#4a4a4a" font-weight="normal" text-anchor="start" letter-spacing="1.4">电磁铁代号</text><text x="97.5" y="743" font-size="10" fill="#4a4a4a" font-weight="normal" text-anchor="start" letter-spacing="1.4">工作类型</text><text x="306.0" y="730" font-size="11.5" fill="#4a4a4a" font-weight="normal" text-anchor="middle" letter-spacing="0.5">G3</text><text x="347.5" y="730" font-size="11.5" fill="#4a4a4a" font-weight="normal" text-anchor="middle" letter-spacing="0.5">G4</text><text x="389.0" y="730" font-size="11.5" fill="#4a4a4a" font-weight="normal" text-anchor="middle" letter-spacing="0.5">G5</text><text x="430.0" y="730" font-size="11.5" fill="#4a4a4a" font-weight="normal" text-anchor="middle" letter-spacing="0.5">G6</text><text x="183.2" y="779" font-size="10.5" fill="#4a4a4a" font-weight="normal" text-anchor="middle" letter-spacing="1.0">正常工作</text><text x="306.0" y="779" font-size="10.5" fill="#4a4a4a" font-weight="normal" text-anchor="middle" letter-spacing="0">+</text><text x="347.5" y="779" font-size="10.5" fill="#4a4a4a" font-weight="normal" text-anchor="middle" letter-spacing="0">+</text><text x="389.0" y="779" font-size="10.5" fill="#4a4a4a" font-weight="normal" text-anchor="middle" letter-spacing="0">+</text><text x="430.0" y="779" font-size="10.5" fill="#4a4a4a" font-weight="normal" text-anchor="middle" letter-spacing="0">+</text><text x="184.2" y="830" font-size="10.5" fill="#4a4a4a" font-weight="normal" text-anchor="middle" letter-spacing="1.0">井中紧急制动</text><text x="306.0" y="828" font-size="10.5" fill="#777" font-weight="normal" text-anchor="middle" letter-spacing="0">–</text><text x="347.5" y="828" font-size="10.5" fill="#777" font-weight="normal" text-anchor="middle" letter-spacing="0">–</text><text x="389.0" y="830" font-size="10" fill="#4a4a4a" font-weight="normal" text-anchor="middle" letter-spacing="1.2">+延时–</text><text x="430.0" y="830" font-size="10" fill="#4a4a4a" font-weight="normal" text-anchor="middle" letter-spacing="1.2">–延时+</text><text x="184.2" y="880" font-size="10.5" fill="#4a4a4a" font-weight="normal" text-anchor="middle" letter-spacing="1.0">井口紧急制动</text><text x="306.0" y="878" font-size="10.5" fill="#777" font-weight="normal" text-anchor="middle" letter-spacing="0">–</text><text x="347.5" y="878" font-size="10.5" fill="#777" font-weight="normal" text-anchor="middle" letter-spacing="0">–</text><text x="389.0" y="878" font-size="10.5" fill="#777" font-weight="normal" text-anchor="middle" letter-spacing="0">–</text><text x="430.0" y="880" font-size="10.5" fill="#4a4a4a" font-weight="normal" text-anchor="middle" letter-spacing="0">+</text><text x="204.0" y="931" font-size="10.5" fill="#4a4a4a" font-weight="normal" text-anchor="middle" letter-spacing="0.65">调整右侧闸皮间隙</text><text x="306.0" y="931" font-size="10.5" fill="#4a4a4a" font-weight="normal" text-anchor="middle" letter-spacing="0">+</text><text x="347.5" y="929" font-size="10.5" fill="#777" font-weight="normal" text-anchor="middle" letter-spacing="0">–</text><text x="389.0" y="929" font-size="10.5" fill="#777" font-weight="normal" text-anchor="middle" letter-spacing="0">–</text><text x="430.0" y="929" font-size="10.5" fill="#777" font-weight="normal" text-anchor="middle" letter-spacing="0">–</text><text x="204.0" y="981" font-size="10.5" fill="#4a4a4a" font-weight="normal" text-anchor="middle" letter-spacing="0.65">调整左侧闸皮间隙</text><text x="306.0" y="979" font-size="10.5" fill="#777" font-weight="normal" text-anchor="middle" letter-spacing="0">–</text><text x="347.5" y="981" font-size="10.5" fill="#4a4a4a" font-weight="normal" text-anchor="middle" letter-spacing="0">+</text><text x="389.0" y="981" font-size="10.5" fill="#4a4a4a" font-weight="normal" text-anchor="middle" letter-spacing="0">+</text><text x="430.0" y="979" font-size="10.5" fill="#777" font-weight="normal" text-anchor="middle" letter-spacing="0">–</text><text x="100.7" y="938.5" font-size="10" fill="#4a4a4a" font-weight="normal" text-anchor="middle" letter-spacing="1.2">调整</text><text x="100.7" y="956.5" font-size="10" fill="#4a4a4a" font-weight="normal" text-anchor="middle" letter-spacing="1.2">闸皮</text><text x="100.7" y="974.5" font-size="10" fill="#4a4a4a" font-weight="normal" text-anchor="middle" letter-spacing="1.2">间隙</text><text x="100" y="1017" font-size="9.5" fill="#585858" font-weight="normal" text-anchor="start" letter-spacing="0.55">1、电接点压力温度计 2、电动机 3、滤油器发讯器 4、比例溢流阀5、电接点压力表 6、电磁换向阀 8、电磁换向阀</text><text x="99" y="1031" font-size="9.5" fill="#585858" font-weight="normal" text-anchor="start" letter-spacing="0.55">9、电磁换向阀 10、溢流阀 11、普通压力表 12弹簧蓄能器 13、单向阀 14减压阀 15、液动换向阀</text><rect x="82" y="129.5" width="10" height="8" fill="#111"/><text x="94" y="136.7" font-size="10" fill="#222" font-weight="normal" text-anchor="start" letter-spacing="1.7" stroke="#222" stroke-width="0.25">配套的液压装置：</text><circle cx="86.4" cy="151.2" r="4.3" fill="#111"/><text x="94" y="155" font-size="10" fill="#222" font-weight="normal" text-anchor="start" letter-spacing="1.7" stroke="#222" stroke-width="0.25">液压站主要用来根据系统工作的要求，调节进入制动器油缸的</text><text x="94.3" y="171.7" font-size="10" fill="#222" font-weight="normal" text-anchor="start" letter-spacing="1.7" stroke="#222" stroke-width="0.25">油压P大小达到改变制动力距的目的。</text><circle cx="86.4" cy="186" r="4.3" fill="#111"/><text x="94" y="189.6" font-size="10" fill="#222" font-weight="normal" text-anchor="start" letter-spacing="1.7" stroke="#222" stroke-width="0.25">液压站根据制动器的型号和使用要求配套。</text><rect x="83" y="210.3" width="9" height="7.6" fill="#111"/><text x="94.3" y="217.5" font-size="10" fill="#222" font-weight="normal" text-anchor="start" letter-spacing="1.7" stroke="#222" stroke-width="0.25">液压站原理：</text></svg>
<div class="t" style="left:602px;top:9px;font-size:26px;font-weight:bold;color:#111;letter-spacing:5.2px;">其它系列产品</div>
<div class="t" style="left:224px;top:63px;font-size:28px;font-weight:bold;color:#f0141c;">KYP<span style="letter-spacing:2.75px;margin-left:2px">系列矿用提升机制动系统</span></div>
<div class="t" style="left:85px;top:661px;font-size:11px;color:#222;letter-spacing:0.7px;-webkit-text-stroke:0.2px #222;">各电磁阀状态</div>
<div class="t" style="left:94px;top:682.5px;font-size:9.5px;color:#555;letter-spacing:0.2px;">注：+表示通电，–表示断电</div>
<div class="t" style="left:760px;top:1078.5px;font-size:13.5px;color:#222;letter-spacing:1.1px;">P–84</div>
</body></html>
